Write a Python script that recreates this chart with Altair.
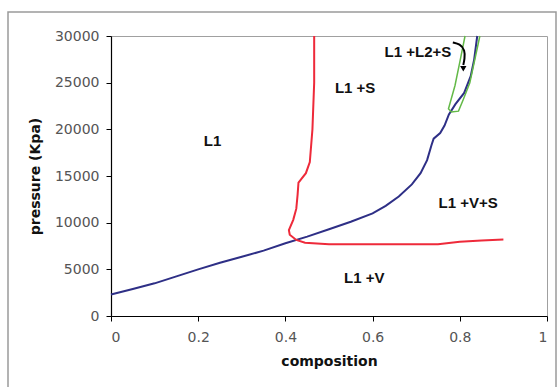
import altair as alt
import pandas as pd

# Blue curve (L1 / L1+V boundary)
blue_x = [0, 0.05, 0.1, 0.15, 0.2, 0.25, 0.3, 0.35, 0.4, 0.45, 0.5, 0.55, 0.6, 0.63, 0.66, 0.69, 0.71, 0.725, 0.735, 0.74, 0.755, 0.765, 0.775, 0.79, 0.81, 0.825, 0.833, 0.84]
blue_y = [2300, 2900, 3500, 4250, 5000, 5700, 6350, 7000, 7800, 8500, 9300, 10100, 11000, 11800, 12800, 14100, 15300, 16700, 18300, 19000, 19600, 20400, 21600, 22700, 23900, 25700, 27500, 30000]

# Red curve (solid boundary)
red_x = [0.466, 0.466, 0.462, 0.456, 0.447, 0.43, 0.428, 0.425, 0.418, 0.408, 0.41, 0.425, 0.445, 0.5, 0.6, 0.7, 0.75, 0.8, 0.85, 0.9]
red_y = [30000, 25000, 20000, 16500, 15300, 14300, 13000, 11500, 10300, 9200, 8700, 8150, 7850, 7700, 7700, 7680, 7700, 7950, 8100, 8200]

# Green loop (L1+L2+S region)
green_x = [0.812, 0.80, 0.789, 0.774, 0.781, 0.797, 0.808, 0.823, 0.846]
green_y = [30000, 27200, 24700, 22200, 21850, 21950, 23200, 25000, 30000]

# Curved arrow pointing into the L1+L2+S region
arrow_x = [0.784, 0.800, 0.812, 0.811, 0.808]
arrow_y = [29300, 29150, 28500, 27500, 26900]
arrowhead_x = [0.808]
arrowhead_y = [26500]

# Region labels
label_text = ["L1", "L1 +S", "L1 +L2+S", "L1 +V+S", "L1 +V"]
label_x = [0.233, 0.56, 0.704, 0.819, 0.581]
label_y = [18740, 24480, 28250, 12120, 4050]


def line_df(xs, ys):
    return pd.DataFrame({"x": xs, "y": ys, "i": list(range(len(xs)))})


xs = alt.Scale(domain=[0, 1])
ys = alt.Scale(domain=[0, 30000])

x_axis = alt.Axis(values=[0, 0.2, 0.4, 0.6, 0.8, 1], format="~g", title="composition")
y_axis = alt.Axis(values=[0, 5000, 10000, 15000, 20000, 25000, 30000], format="d", title="pressure (Kpa)")


def curve(xs_, ys_, color, width=1.8):
    return alt.Chart(line_df(xs_, ys_)).mark_line(color=color, strokeWidth=width, clip=False).encode(
        x=alt.X("x:Q", scale=xs, axis=x_axis),
        y=alt.Y("y:Q", scale=ys, axis=y_axis),
        order="i:Q",
    )


frame = alt.Chart(pd.DataFrame({"a": [0]})).mark_rect(
    fill=None, stroke="#9a9a9a", strokeWidth=1.5, clip=False
).encode(
    x=alt.value(-103), x2=alt.value(445), y=alt.value(-24), y2=alt.value(380)
)

blue = curve(blue_x, blue_y, "#2e2f86", 2)
red = curve(red_x, red_y, "#ee2a3a", 2)
green = curve(green_x, green_y, "#63b947", 1.5)
arrow = alt.Chart(line_df(arrow_x, arrow_y)).mark_line(color="black", strokeWidth=2, interpolate="basis").encode(
    x=alt.X("x:Q", scale=xs), y=alt.Y("y:Q", scale=ys), order="i:Q"
)
head = alt.Chart(pd.DataFrame({"x": arrowhead_x, "y": arrowhead_y})).mark_point(
    shape="triangle-down", filled=True, color="black", size=40, opacity=1
).encode(x=alt.X("x:Q", scale=xs), y=alt.Y("y:Q", scale=ys))

labels = alt.Chart(pd.DataFrame({"t": label_text, "x": label_x, "y": label_y})).mark_text(
    font="Liberation Sans", fontWeight="bold", fontSize=15, color="#111"
).encode(x=alt.X("x:Q", scale=xs), y=alt.Y("y:Q", scale=ys), text="t:N")

chart = alt.layer(frame, blue, red, green, arrow, head, labels).properties(
    width=436, height=280,
    autosize=alt.AutoSizeParams(type="none"),
    padding={"left": 111, "top": 36, "right": 13, "bottom": 71},
    background="white",
).configure_view(
    stroke="#a0a0a0", strokeWidth=1
).configure_axis(
    domainColor="black", domainWidth=1.2, tickColor="black", tickSize=5,
    grid=False, labelFont="DejaVu Sans", labelFontSize=14, labelColor="#555",
    titleFont="DejaVu Sans", titleFontSize=14, titleFontWeight="bold", titleColor="#111",
).configure_axisX(
    labelPadding=9, titlePadding=10
).configure_axisY(
    labelPadding=7, titlePadding=12
)

chart.save("out.html", embed_options={"renderer": "svg", "actions": False})
